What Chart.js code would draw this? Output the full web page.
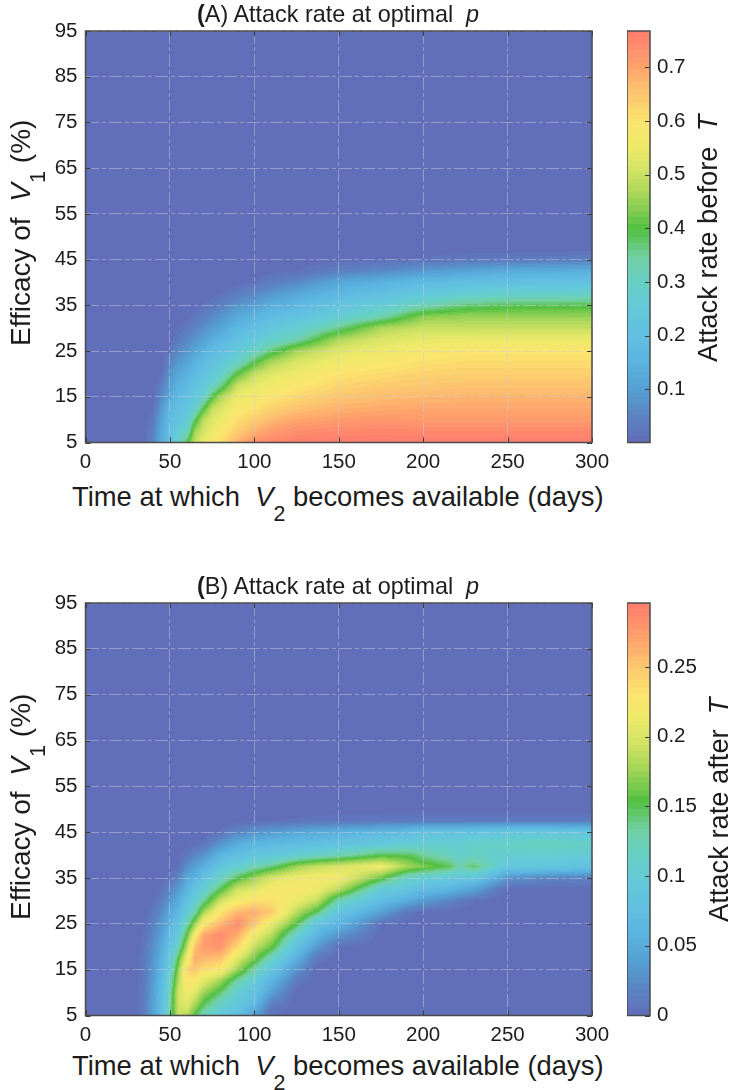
<!DOCTYPE html>
<html>
<head>
<meta charset="utf-8">
<title>Attack rate at optimal p</title>
<script src="https://cdn.jsdelivr.net/npm/chart.js@4"></script>
<style>
  html, body { margin: 0; padding: 0; background: #fff; }
  #page { position: relative; width: 730px; height: 1090px; overflow: hidden; font-family: "Liberation Sans", Arial, sans-serif; color: #1c1c1c; }
  canvas { position: absolute; }
  .lbl { position: absolute; white-space: pre; line-height: 1; }
  .rot { transform-origin: 0 0; transform: rotate(-90deg); }
  .lbl i { font-style: italic; }
  .lbl sub { font-size: 78%; vertical-align: -0.7em; line-height: 0; }
</style>
</head>
<body>
<div id="page">
  <canvas id="chartA" width="625" height="480" style="left:0;top:0"></canvas>
  <canvas id="barA" width="103" height="480" style="left:627px;top:0"></canvas>
  <canvas id="chartB" width="625" height="480" style="left:0;top:570px"></canvas>
  <canvas id="barB" width="103" height="480" style="left:627px;top:570px"></canvas>

  <div class="lbl" style="left:197px;top:3px;font-size:23.4px"><b>(</b>A) Attack rate at optimal  <i>p</i></div>
  <div class="lbl" style="left:72px;top:483px;font-size:27.4px">Time at which  <i>V</i><sub>2</sub> becomes available (days)</div>
  <div class="lbl rot" style="left:7px;top:346px;font-size:28px">Efficacy of  <i>V</i><sub>1</sub> (%)</div>
  <div class="lbl rot" style="left:694px;top:362px;font-size:27.3px">Attack rate before  <i>T</i></div>

  <div class="lbl" style="left:197px;top:575px;font-size:23.4px"><b>(</b>B) Attack rate at optimal  <i>p</i></div>
  <div class="lbl" style="left:72px;top:1052px;font-size:27.4px">Time at which  <i>V</i><sub>2</sub> becomes available (days)</div>
  <div class="lbl rot" style="left:7px;top:920px;font-size:28px">Efficacy of  <i>V</i><sub>1</sub> (%)</div>
  <div class="lbl rot" style="left:705px;top:922px;font-size:27.3px">Attack rate after  <i>T</i></div>
</div>

<script>
// efficacy rows, shared by both panels (%)
const efficacy = [5, 7.5, 10, 12.5, 15, 17.5, 20, 22.5, 25, 27.5, 30, 32.5, 35, 37.5, 40, 42.5, 45, 47.5, 50, 95];

// panel A columns (days) and attack rate before T, one line per column
const daysA = [0, 30, 35, 40, 45, 50, 55, 60, 65, 70, 75, 80, 90, 100, 110, 125, 150, 175, 200, 225, 250, 300];
const attackBefore = [
  [.001,.001,.001,.001,.001,.001,.001,.001,.001,.001,.001,.001,.001,.001,.001,.001,.001,.001,.001,.001],
  [.001,.001,.001,.001,.001,.001,.001,.001,.001,.001,.001,.001,.001,.001,.001,.001,.001,.001,.001,.001],
  [.01,.006,.003,.001,.001,.001,.001,.001,.001,.001,.001,.001,.001,.001,.001,.001,.001,.001,.001,.001],
  [.05,.045,.03,.015,.005,.001,.001,.001,.001,.001,.001,.001,.001,.001,.001,.001,.001,.001,.001,.001],
  [.13,.12,.11,.09,.06,.035,.015,.005,.001,.001,.001,.001,.001,.001,.001,.001,.001,.001,.001,.001],
  [.20,.19,.18,.16,.13,.10,.08,.05,.02,.005,.001,.001,.001,.001,.001,.001,.001,.001,.001,.001],
  [.29,.27,.22,.20,.18,.15,.12,.09,.06,.03,.012,.002,.001,.001,.001,.001,.001,.001,.001,.001],
  [.39,.30,.25,.22,.20,.17,.145,.115,.085,.055,.025,.008,.001,.001,.001,.001,.001,.001,.001,.001],
  [.50,.46,.38,.28,.24,.21,.18,.15,.115,.08,.05,.025,.004,.001,.001,.001,.001,.001,.001,.001],
  [.55,.51,.49,.39,.29,.25,.21,.18,.145,.105,.07,.04,.015,.002,.001,.001,.001,.001,.001,.001],
  [.59,.55,.52,.49,.39,.29,.25,.21,.175,.135,.095,.06,.028,.004,.001,.001,.001,.001,.001,.001],
  [.61,.58,.55,.52,.47,.35,.28,.235,.195,.155,.115,.08,.04,.012,.001,.001,.001,.001,.001,.001],
  [.68,.64,.61,.58,.55,.50,.40,.30,.25,.205,.165,.125,.08,.035,.004,.001,.001,.001,.001,.001],
  [.73,.68,.64,.60,.575,.54,.49,.39,.30,.245,.195,.15,.10,.06,.015,.001,.001,.001,.001,.001],
  [.755,.71,.67,.63,.595,.565,.53,.47,.37,.285,.235,.185,.135,.085,.035,.004,.001,.001,.001,.001],
  [.765,.735,.695,.655,.62,.59,.555,.52,.46,.33,.27,.21,.165,.12,.06,.012,.001,.001,.001,.001],
  [.768,.745,.71,.68,.65,.625,.60,.565,.53,.47,.36,.27,.22,.17,.12,.04,.005,.001,.001,.001],
  [.768,.75,.72,.69,.665,.64,.615,.585,.555,.52,.47,.33,.26,.20,.145,.06,.01,.001,.001,.001],
  [.768,.745,.715,.695,.67,.65,.63,.605,.58,.54,.50,.44,.32,.24,.18,.09,.015,.002,.001,.001],
  [.768,.745,.715,.695,.675,.655,.635,.615,.59,.545,.495,.45,.37,.27,.195,.11,.025,.002,.001,.001],
  [.768,.745,.715,.695,.675,.655,.635,.615,.595,.55,.495,.45,.385,.285,.205,.13,.03,.003,.001,.001],
  [.766,.745,.715,.695,.675,.655,.635,.615,.595,.55,.495,.45,.39,.295,.21,.14,.04,.003,.001,.001]
];

// panel B columns (days) and attack rate after T, one line per column
const daysB = [0, 25, 30, 35, 40, 45, 50, 55, 60, 65, 70, 80, 90, 100, 110, 125, 137, 150, 175, 190, 200, 215, 222, 230, 250, 275, 300];
const attackAfter = [
  [0,0,0,0,0,0,0,0,0,0,0,0,0,0,0,0,0,0,0,0],
  [0,0,0,0,0,0,0,0,0,0,0,0,0,0,0,0,0,0,0,0],
  [.003,.003,.003,.002,.002,.001,0,0,0,0,0,0,0,0,0,0,0,0,0,0],
  [.015,.015,.014,.013,.012,.011,.009,.006,.004,.002,0,0,0,0,0,0,0,0,0,0],
  [.04,.04,.038,.036,.034,.03,.026,.022,.016,.01,.004,0,0,0,0,0,0,0,0,0],
  [.075,.073,.07,.066,.06,.055,.048,.04,.033,.025,.015,.006,.001,0,0,0,0,0,0,0],
  [.13,.13,.125,.115,.105,.09,.08,.07,.058,.045,.033,.02,.008,.001,0,0,0,0,0,0],
  [.19,.195,.195,.185,.17,.152,.12,.10,.08,.065,.05,.035,.018,.005,0,0,0,0,0,0],
  [.185,.205,.215,.23,.24,.215,.185,.155,.125,.10,.08,.06,.045,.027,.01,.001,0,0,0,0],
  [.15,.18,.205,.225,.25,.265,.255,.225,.175,.13,.105,.085,.06,.04,.02,.003,0,0,0,0],
  [.12,.15,.175,.205,.235,.26,.275,.27,.225,.18,.135,.105,.08,.055,.03,.007,0,0,0,0],
  [.095,.115,.145,.175,.225,.255,.28,.285,.26,.23,.195,.15,.115,.085,.06,.03,.006,0,0,0],
  [.075,.09,.105,.13,.175,.205,.24,.265,.285,.26,.22,.195,.15,.105,.075,.05,.02,.001,0,0],
  [.04,.065,.08,.10,.13,.165,.19,.215,.25,.265,.235,.205,.175,.125,.085,.06,.03,.003,0,0],
  [.004,.015,.04,.06,.085,.12,.16,.185,.21,.25,.235,.22,.20,.14,.09,.065,.035,.004,0,0],
  [0,0,.001,.01,.03,.055,.08,.11,.155,.185,.21,.225,.215,.175,.105,.07,.045,.006,0,0],
  [0,0,0,0,0,.01,.035,.06,.085,.148,.19,.215,.22,.19,.115,.075,.05,.008,0,0],
  [0,0,0,0,0,0,.005,.03,.06,.085,.125,.185,.22,.20,.125,.08,.055,.009,0,0],
  [0,0,0,0,0,0,0,.001,.005,.04,.07,.10,.16,.215,.15,.095,.065,.01,0,0],
  [0,0,0,0,0,0,0,0,.001,.01,.05,.085,.115,.18,.15,.10,.07,.011,0,0],
  [0,0,0,0,0,0,0,0,0,.002,.035,.07,.105,.165,.135,.105,.08,.012,0,0],
  [0,0,0,0,0,0,0,0,0,0,.02,.06,.095,.15,.12,.105,.08,.012,0,0],
  [0,0,0,0,0,0,0,0,0,0,.012,.05,.09,.128,.11,.105,.082,.012,0,0],
  [0,0,0,0,0,0,0,0,0,0,.005,.04,.09,.145,.115,.11,.085,.012,0,0],
  [0,0,0,0,0,0,0,0,0,0,0,.002,.03,.09,.105,.115,.09,.012,0,0],
  [0,0,0,0,0,0,0,0,0,0,0,.001,.02,.09,.105,.12,.09,.012,0,0],
  [0,0,0,0,0,0,0,0,0,0,0,0,.015,.08,.10,.11,.085,.012,0,0]
];

// colour bar ranges and ticks
const rangeA = [0.001, 0.768];
const rangeB = [0, 0.296];
const ticksA = [0.1, 0.2, 0.3, 0.4, 0.5, 0.6, 0.7];
const ticksB = [0, 0.05, 0.1, 0.15, 0.2, 0.25];

// colormap, position along the bar and colour
const cmapPos = [0, .07, .13, .2, .26, .32, .39, .45, .49, .52, .56, .61, .66, .72, .78, .85, .92, 1];
const cmapHex = ["#626cb9", "#5a86c4", "#56a0d3", "#5bb4e0", "#62bfe0", "#63c8da", "#66d0c4", "#72d0a4", "#62c668",
                 "#52c040", "#80cc50", "#aed85a", "#d2e264", "#eeea6a", "#fbe46e", "#fdc56f", "#fe9f6c", "#fe7b6e"];
const cmapRgb = cmapHex.map(h => [1, 3, 5].map(i => parseInt(h.substr(i, 2), 16)));

function colormap(t) {
    // 64 levels, like the original figure
    let lv = Math.floor(t * 64);
    lv = Math.max(0, Math.min(63, lv));
    const p = (lv + 0.5) / 64;
    let i = 0;
    while (i < cmapPos.length - 2 && p > cmapPos[i + 1]) i++;
    const f = (p - cmapPos[i]) / (cmapPos[i + 1] - cmapPos[i]);
    return [0, 1, 2].map(k => cmapRgb[i][k] + (cmapRgb[i + 1][k] - cmapRgb[i][k]) * f);
}

function bracket(list, v) {
    let i = 0;
    while (i < list.length - 2 && v > list[i + 1]) i++;
    const f = (v - list[i]) / (list[i + 1] - list[i]);
    return [i, Math.max(0, Math.min(1, f))];
}

// shaded surface (interp shading), pixels come from the chart's scales
const heatmap = {
    id: "heatmap",
    beforeDraw(chart, args, opts) {
        const { ctx, chartArea: a, scales: { x, y } } = chart;
        const left = Math.round(a.left), top = Math.round(a.top);
        const w = Math.round(a.right) - left, h = Math.round(a.bottom) - top;
        const img = ctx.createImageData(w, h);
        const { xs, ys, grid, range } = opts;

        for (let py = 0; py < h; py++) {
            const [j, fy] = bracket(ys, y.getValueForPixel(top + py + 0.5));
            for (let px = 0; px < w; px++) {
                const [i, fx] = bracket(xs, x.getValueForPixel(left + px + 0.5));
                const v = (grid[i][j] * (1 - fx) + grid[i + 1][j] * fx) * (1 - fy)
                        + (grid[i][j + 1] * (1 - fx) + grid[i + 1][j + 1] * fx) * fy;
                const c = colormap((v - range[0]) / (range[1] - range[0]));
                const o = (py * w + px) * 4;
                img.data[o] = c[0]; img.data[o + 1] = c[1]; img.data[o + 2] = c[2]; img.data[o + 3] = 255;
            }
        }
        ctx.putImageData(img, left, top);
    }
};

// box and inward ticks
const frame = {
    id: "frame",
    afterDraw(chart, args, opts) {
        const { ctx, chartArea: a, scales: { x, y } } = chart;
        ctx.save();
        ctx.strokeStyle = "#3a3a3a";
        ctx.lineWidth = 1;
        ctx.beginPath();
        if (!opts.bar) {
            x.ticks.forEach((t, k) => {
                const p = Math.round(x.getPixelForTick(k)) + 0.5;
                ctx.moveTo(p, a.bottom); ctx.lineTo(p, a.bottom - 5);
                ctx.moveTo(p, a.top); ctx.lineTo(p, a.top + 5);
            });
        }
        y.ticks.forEach((t, k) => {
            const p = Math.round(y.getPixelForTick(k)) + 0.5;
            if (!opts.bar) { ctx.moveTo(a.left, p); ctx.lineTo(a.left + 5, p); }
            ctx.moveTo(a.right, p); ctx.lineTo(a.right - 5, p);
        });
        ctx.stroke();
        ctx.strokeStyle = "#4a4a4a";
        ctx.lineWidth = 1.5;
        ctx.strokeRect(a.left, a.top, a.right - a.left, a.bottom - a.top);
        ctx.restore();
    }
};

function nodes(xs, ys, grid) {
    const out = [];
    xs.forEach((xv, i) => ys.forEach((yv, j) => out.push({ x: xv, y: yv, v: grid[i][j] })));
    return out;
}

const tickFont = { family: "'Liberation Sans', Arial, sans-serif", size: 20.5 };
const tickColor = "#1c1c1c";
const gridColor = "rgba(205,205,215,0.48)";

function panel(id, xs, grid, range, padTop, axisH) {
    return new Chart(document.getElementById(id), {
        type: "scatter",
        data: { datasets: [{ data: nodes(xs, efficacy, grid), pointRadius: 0, showLine: false }] },
        options: {
            responsive: false,
            animation: false,
            layout: { padding: { top: padTop, right: 33, left: 0.5, bottom: 0 } },
            plugins: {
                legend: { display: false },
                tooltip: { enabled: false },
                heatmap: { xs: xs, ys: efficacy, grid: grid, range: range },
                frame: {}
            },
            scales: {
                x: {
                    type: "linear", min: 0, max: 300,
                    afterFit(s) { s.height = axisH; s.paddingLeft = 0; s.paddingRight = 0; },
                    ticks: { stepSize: 50, font: tickFont, color: tickColor, padding: 8, maxRotation: 0 },
                    grid: { color: gridColor, drawTicks: false, lineWidth: 1 },
                    border: { display: false, dash: [13, 3, 4, 3] }
                },
                y: {
                    type: "linear", min: 5, max: 95,
                    afterFit(s) { s.width = 85; s.paddingTop = 0; s.paddingBottom = 0; },
                    ticks: { stepSize: 10, font: tickFont, color: tickColor, padding: 8 },
                    grid: { color: gridColor, drawTicks: false, lineWidth: 1 },
                    border: { display: false, dash: [13, 3, 4, 3] }
                }
            }
        },
        plugins: [heatmap, frame]
    });
}

function colorbar(id, range, tickList, padTop, axisH) {
    const xs = [0, 1], ys = range, grid = [range, range];
    return new Chart(document.getElementById(id), {
        type: "scatter",
        data: { datasets: [{ data: nodes(xs, ys, grid), pointRadius: 0, showLine: false }] },
        options: {
            responsive: false,
            animation: false,
            layout: { padding: { top: padTop, right: 0, left: 0, bottom: axisH } },
            plugins: {
                legend: { display: false },
                tooltip: { enabled: false },
                heatmap: { xs: xs, ys: ys, grid: grid, range: range },
                frame: { bar: true }
            },
            scales: {
                x: { type: "linear", min: 0, max: 1, display: false },
                y: {
                    type: "linear", position: "right", min: range[0], max: range[1],
                    afterFit(s) { s.width = 80; s.paddingTop = 0; s.paddingBottom = 0; },
                    afterBuildTicks(s) { s.ticks = tickList.map(v => ({ value: v })); },
                    ticks: { font: tickFont, color: tickColor, padding: 7, callback: v => String(v) },
                    grid: { display: false, drawTicks: false },
                    border: { display: false }
                }
            }
        },
        plugins: [heatmap, frame]
    });
}

panel("chartA", daysA, attackBefore, rangeA, 31, 37.5);
colorbar("barA", rangeA, ticksA, 31, 37.5);
panel("chartB", daysB, attackAfter, rangeB, 33, 34.5);
colorbar("barB", rangeB, ticksB, 33, 34.5);
</script>
</body>
</html>
